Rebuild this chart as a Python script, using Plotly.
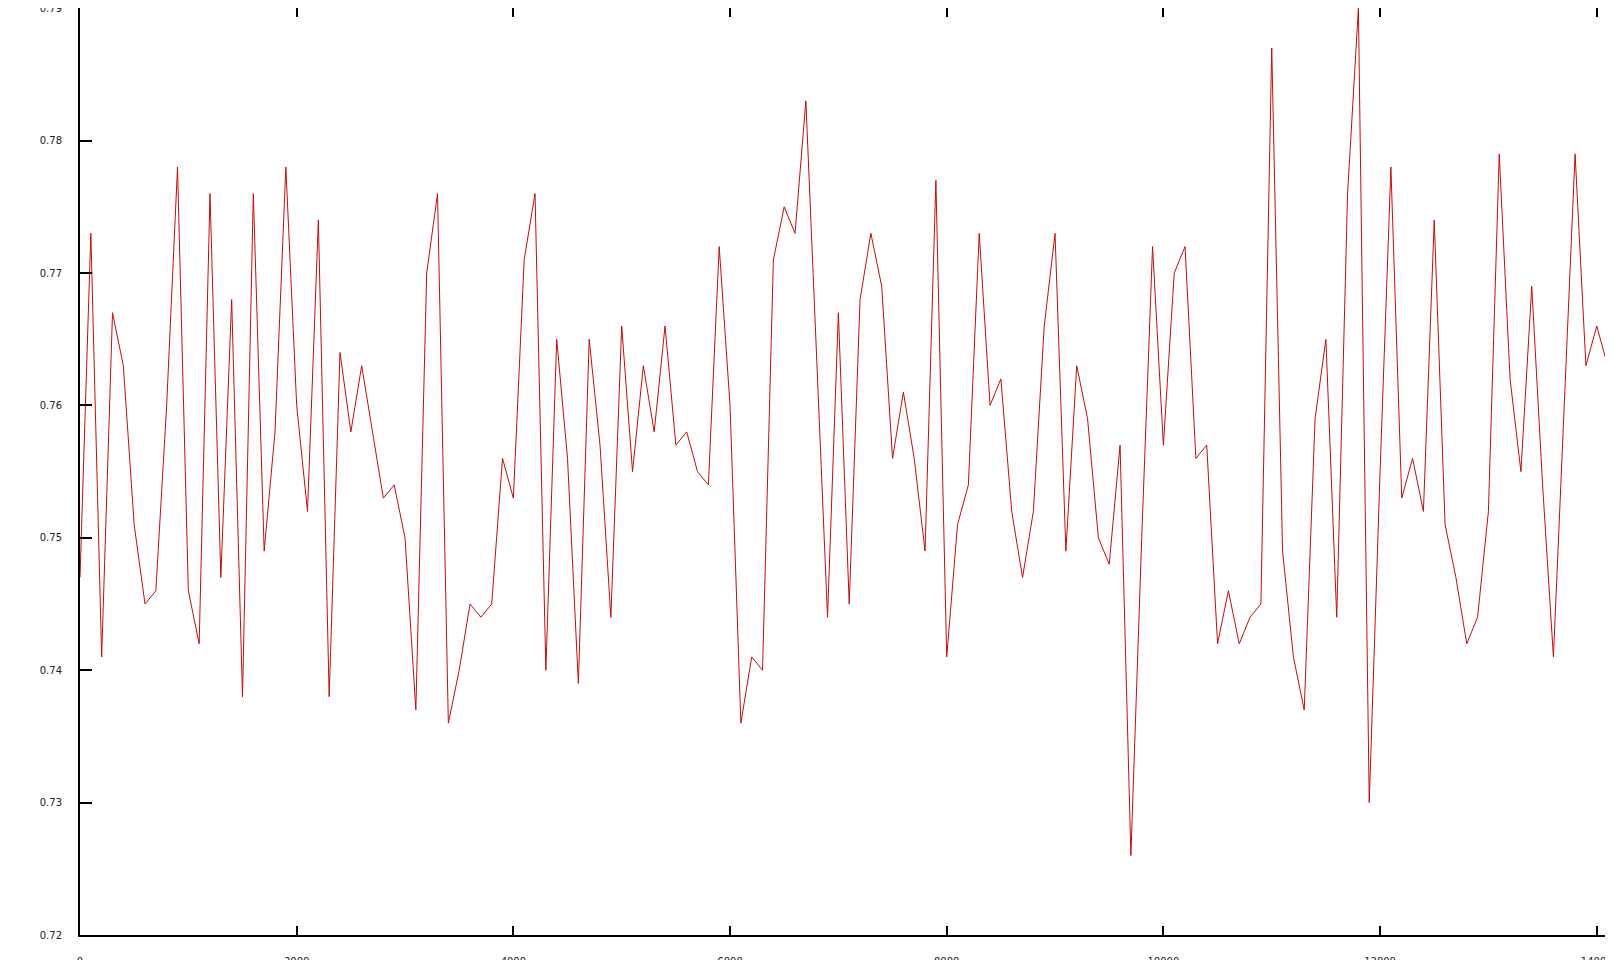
import plotly.graph_objects as go

# sample spacing on the x axis
step = 100

# values, one per sample (x = 0, 100, 200, ...)
values = [
    0.747, 0.773, 0.741, 0.767, 0.763, 0.751, 0.745, 0.746, 0.760, 0.778,
    0.746, 0.742, 0.776, 0.747, 0.768, 0.738, 0.776, 0.749, 0.758, 0.778,
    0.760, 0.752, 0.774, 0.738, 0.764, 0.758, 0.763, 0.758, 0.753, 0.754,
    0.750, 0.737, 0.770, 0.776, 0.736, 0.740, 0.745, 0.744, 0.745, 0.756,
    0.753, 0.771, 0.776, 0.740, 0.765, 0.756, 0.739, 0.765, 0.757, 0.744,
    0.766, 0.755, 0.763, 0.758, 0.766, 0.757, 0.758, 0.755, 0.754, 0.772,
    0.760, 0.736, 0.741, 0.740, 0.771, 0.775, 0.773, 0.783, 0.764, 0.744,
    0.767, 0.745, 0.768, 0.773, 0.769, 0.756, 0.761, 0.756, 0.749, 0.777,
    0.741, 0.751, 0.754, 0.773, 0.760, 0.762, 0.752, 0.747, 0.752, 0.766,
    0.773, 0.749, 0.763, 0.759, 0.750, 0.748, 0.757, 0.726, 0.750, 0.772,
    0.757, 0.770, 0.772, 0.756, 0.757, 0.742, 0.746, 0.742, 0.744, 0.745,
    0.787, 0.749, 0.741, 0.737, 0.759, 0.765, 0.744, 0.776, 0.790, 0.730,
    0.755, 0.778, 0.753, 0.756, 0.752, 0.774, 0.751, 0.747, 0.742, 0.744,
    0.752, 0.779, 0.762, 0.755, 0.769, 0.754, 0.741, 0.760, 0.779, 0.763,
    0.766, 0.763, 0.755,
]
xs = [i * step for i in range(len(values))]

x_ticks = [0, 2000, 4000, 6000, 8000, 10000, 12000, 14000]
y_ticks = [0.72, 0.73, 0.74, 0.75, 0.76, 0.77, 0.78, 0.79]

fig = go.Figure()
fig.add_trace(go.Scatter(x=xs, y=values, mode='lines',
                         line=dict(color='#c40c0c', width=1),
                         showlegend=False))

font = dict(family='DejaVu Sans', size=10, color='#222222')

# page body adds an 8px offset, so the figure is 8px smaller than the window
fig.update_layout(
    width=1605, height=952,
    margin=dict(l=72, r=0, t=0, b=25),
    paper_bgcolor='white', plot_bgcolor='white',
    showlegend=False,
)
fig.update_xaxes(range=[0, 14150], tickvals=x_ticks,
                 ticktext=[str(v) for v in x_ticks],
                 showgrid=False, zeroline=False, automargin=False,
                 showline=True, linecolor='black', linewidth=2,
                 mirror='ticks', ticks='inside', ticklen=9, tickwidth=2,
                 tickcolor='black', tickfont=font, ticklabelstandoff=16,
                 ticklabeloverflow='allow')
fig.update_yaxes(range=[0.72, 0.79002], tickvals=y_ticks,
                 ticktext=['%.2f' % v for v in y_ticks],
                 showgrid=False, zeroline=False, automargin=False,
                 showline=True, linecolor='black', linewidth=2,
                 mirror=False, ticks='inside', ticklen=12, tickwidth=2,
                 tickcolor='black', tickfont=font, ticklabelstandoff=14,
                 ticklabeloverflow='allow')

fig.write_html("out.html")
